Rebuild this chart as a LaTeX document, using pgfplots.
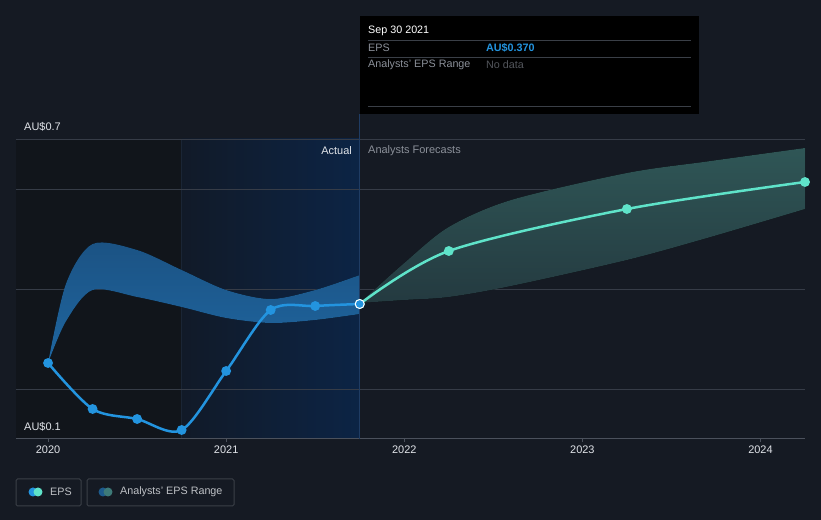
\documentclass[border=0pt]{standalone}
\usepackage{pgfplots}
\pgfplotsset{compat=1.18}
\usepgfplotslibrary{fillbetween}
\usepackage{fontspec}
\setmainfont{Liberation Sans}
\definecolor{bg}{HTML}{151A23}
\definecolor{gridc}{HTML}{363C47}
\definecolor{axc}{HTML}{4B515C}
\definecolor{tickc}{HTML}{E0E3E8}
\definecolor{greyt}{HTML}{8B9099}
\definecolor{epsblue}{HTML}{2394DF}
\definecolor{mint}{HTML}{5FE3C9}
\definecolor{bandbt}{HTML}{1B5283}
\definecolor{bandbb}{HTML}{1F66A0}
\definecolor{bandtt}{HTML}{2F5656}
\definecolor{bandtb}{HTML}{243A40}
\definecolor{bandblue}{HTML}{1D5B8D}
\definecolor{legteal}{HTML}{3D7A78}
\definecolor{darkreg}{HTML}{11151B}
\definecolor{bluel}{HTML}{111A28}
\definecolor{bluer}{HTML}{0C2445}
\definecolor{vline}{HTML}{1F3C63}
\definecolor{sepline}{HTML}{1A2535}
\definecolor{ttline}{HTML}{3A3F47}
\newcommand{\fs}{\fontsize{11}{13}\selectfont}
\newcommand{\ft}{\fontsize{10.8}{13}\selectfont}
\begin{document}
\begin{tikzpicture}
\begin{axis}[
  set layers,
  at={(16bp,81bp)}, anchor=south west,
  scale only axis, width=789bp, height=300bp,
  xmin=2019.82, xmax=2024.25, ymin=0.1, ymax=0.7,
  axis x line*=bottom, axis y line*=left,
  x axis line style={draw=axc, line width=1bp},
  y axis line style={draw=none},
  xtick={2020,2021,2022,2023,2024},
  xticklabels={2020,2021,2022,2023,2024},
  xtick align=outside, major tick length=3bp,
  xtick style={draw=axc, line width=0.8bp},
  xticklabel style={font=\fs, text=tickc, yshift=0bp},
  ytick={0.2,0.4,0.6,0.7}, yticklabels={}, ytick style={draw=none},
  ymajorgrids, major grid style={draw=gridc, line width=0.8bp},
  clip=false,
]
\begin{pgfonlayer}{axis background}
\fill[bg] (rel axis cs:-0.020279,-0.27) rectangle (rel axis cs:1.020279,1.463333);
\fill[darkreg] (axis cs:2019.82,0.1) rectangle (axis cs:2020.75,0.7);
\shade[left color=bluel, right color=bluer] (axis cs:2020.75,0.1) rectangle (axis cs:2021.75,0.7);
\draw[sepline, line width=0.8bp] (axis cs:2020.75,0.1) -- (axis cs:2020.75,0.7);
\end{pgfonlayer}
% actual range band
\addplot[name path=au, draw=none, smooth, tension=0.5] coordinates {
 (2020.0,0.252) (2020.1,0.41) (2020.25,0.49) (2020.5,0.478) (2020.75,0.438) (2021.0,0.398) (2021.25,0.38) (2021.5,0.398) (2021.75,0.428)};
\addplot[name path=al, draw=none, smooth, tension=0.5] coordinates {
 (2020.0,0.252) (2020.1,0.335) (2020.25,0.398) (2020.5,0.384) (2020.75,0.364) (2021.0,0.342) (2021.25,0.332) (2021.5,0.338) (2021.75,0.35)};
\addplot[top color=bandbt, bottom color=bandbb, draw=none] fill between[of=au and al];
% forecast range band
\addplot[name path=fu, draw=none, smooth, tension=0.5] coordinates {
 (2021.75,0.372) (2022.0,0.452) (2022.25,0.524) (2022.6,0.578) (2023.25,0.632) (2023.7,0.655) (2024.25,0.682)};
\addplot[name path=fl, draw=none, smooth, tension=0.5] coordinates {
 (2021.75,0.372) (2022.0,0.378) (2022.25,0.384) (2022.6,0.406) (2023.25,0.458) (2023.7,0.502) (2024.25,0.56)};
\addplot[top color=bandtt, bottom color=bandtb, draw=none] fill between[of=fu and fl];
% vertical divider
\draw[vline, line width=1bp] (axis cs:2021.75,0.1) -- (axis cs:2021.75,0.75);
% EPS actual
\addplot[epsblue, line width=2.5bp, smooth, tension=0.5, mark=*, mark size=3.6bp, mark options={fill=epsblue, draw=none}] coordinates {
 (2020.0,0.252) (2020.25,0.160) (2020.5,0.140) (2020.75,0.118) (2021.0,0.236) (2021.25,0.358) (2021.5,0.366) (2021.75,0.370)};
% EPS forecast
\addplot[mint, line width=2.5bp, smooth, tension=0.5, mark=*, mark size=3.6bp, mark options={fill=mint, draw=none}] coordinates {
 (2021.75,0.370) (2022.25,0.476) (2023.25,0.560) (2024.25,0.614)};
\addplot[only marks, mark=*, mark size=4.5bp, mark options={fill=epsblue, draw=white, line width=1bp}] coordinates {(2021.75,0.370)};
\end{axis}
% labels
\node[anchor=west, text=tickc, font=\fs, inner sep=0] at (24bp,393bp) {AU\$0.7};
\node[anchor=west, text=tickc, font=\fs, inner sep=0] at (24bp,93bp) {AU\$0.1};
\node[anchor=east, text=tickc, font=\fs, inner sep=0] at (352bp,369bp) {Actual};
\node[anchor=west, text=greyt, font=\fs, inner sep=0] at (368bp,369bp) {Analysts Forecasts};
% tooltip
\fill[black] (360bp,504bp) rectangle (699bp,406bp);
\draw[ttline, line width=0.8bp] (368bp,480bp) -- (691bp,480bp);
\draw[ttline, line width=0.8bp] (368bp,463bp) -- (691bp,463bp);
\draw[ttline, line width=0.8bp] (368bp,414bp) -- (691bp,414bp);
\node[anchor=west, text=white, font=\ft, inner sep=0] at (368bp,489bp) {Sep 30 2021};
\node[anchor=west, text=greyt, font=\ft, inner sep=0] at (368bp,472bp) {EPS};
\node[anchor=west, text=epsblue, font=\bfseries\ft, inner sep=0] at (486bp,472bp) {AU\$0.370};
\node[anchor=west, text=greyt, font=\ft, inner sep=0] at (368bp,455bp) {Analysts' EPS Range};
\node[anchor=west, text=greyt!60!black, font=\ft, inner sep=0] at (486bp,455bp) {No data};
% legend
\draw[ttline, line width=1bp, rounded corners=1.5bp] (16bp,41bp) rectangle (81bp,14bp);
\draw[ttline, line width=1bp, rounded corners=1.5bp] (87bp,41bp) rectangle (234bp,14bp);
\fill[epsblue] (33bp,28bp) circle (4.5bp);
\fill[mint] (38bp,28bp) circle (4.5bp);
\node[anchor=west, text=tickc!85!black, font=\ft, inner sep=0] at (50bp,28bp) {EPS};
\fill[bandblue] (103bp,28bp) circle (4.5bp);
\fill[legteal] (108bp,28bp) circle (4.5bp);
\node[anchor=west, text=tickc!85!black, font=\ft, inner sep=0] at (120bp,28bp) {Analysts' EPS Range};
\end{tikzpicture}
\end{document}
